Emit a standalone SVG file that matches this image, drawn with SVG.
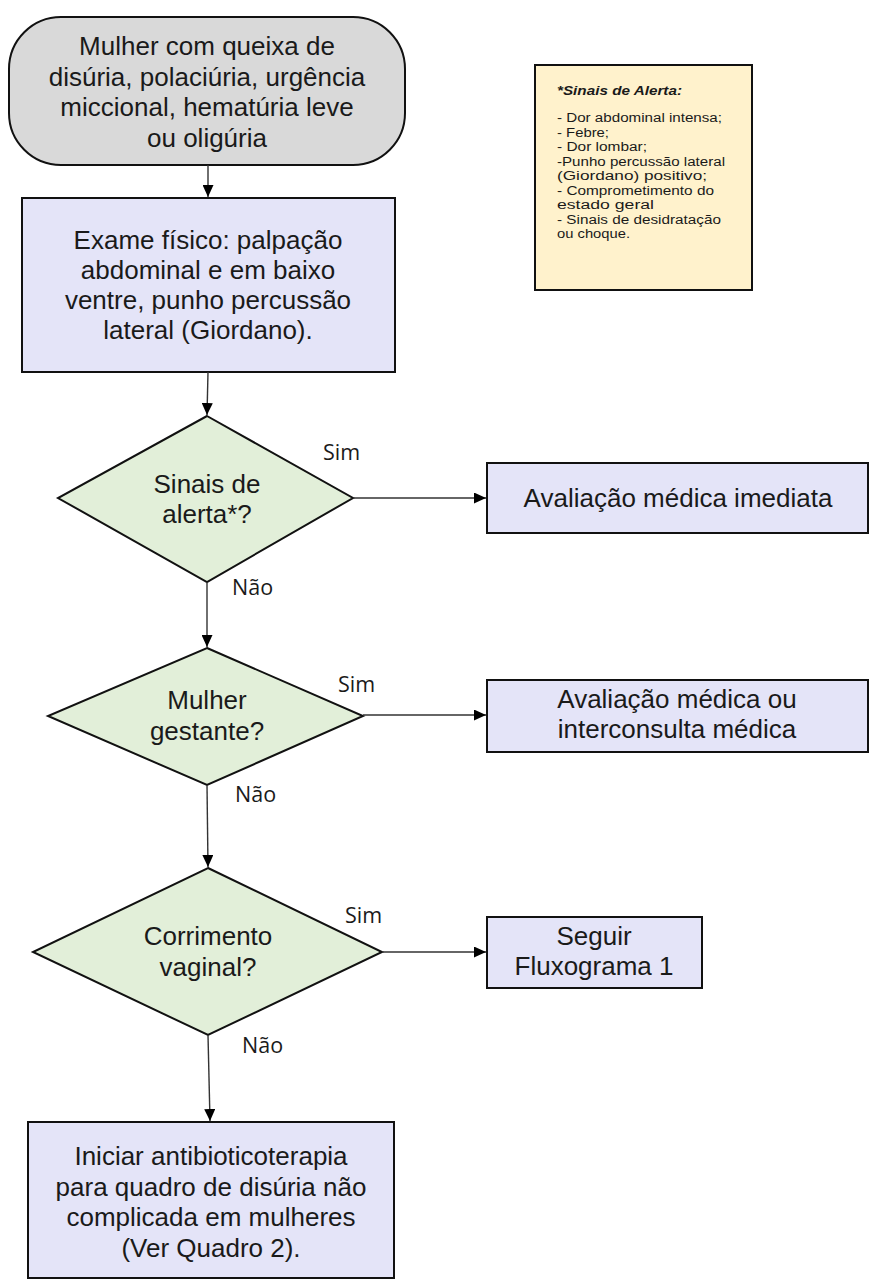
<svg xmlns="http://www.w3.org/2000/svg" width="870" height="1280" viewBox="0 0 870 1280">
<style>
.t{font-family:"Liberation Sans",Arial,sans-serif;font-size:26px;fill:#1a1a1a;text-anchor:middle}
.lbl{font-family:"Open Sans","Noto Sans",sans-serif;font-size:21.5px;fill:#1a1a1a}
.note{font-family:"Liberation Sans",Arial,sans-serif;font-size:12.5px;fill:#1a1a1a}
.box{fill:#e4e4f8;stroke:#111;stroke-width:2}
.dia{fill:#e2efd9;stroke:#111;stroke-width:2}
.con{stroke:#333;stroke-width:1.4;fill:none;marker-end:url(#ah)}
</style>
<defs>
<marker id="ah" markerUnits="userSpaceOnUse" markerWidth="12" markerHeight="11" refX="12" refY="5.5" orient="auto">
<path d="M0,0 L12,5.5 L0,11 z" fill="#000"/>
</marker>
</defs>
<rect width="870" height="1280" fill="#fff"/>
<g id="start">
<rect x="9" y="17" width="396" height="148" rx="52" ry="52" fill="#d9d9d9" stroke="#111" stroke-width="2"/>
<text class="t" x="207" y="55">Mulher com queixa de</text>
<text class="t" x="207" y="86">disúria, polaciúria, urgência</text>
<text class="t" x="207" y="116">miccional, hematúria leve</text>
<text class="t" x="207" y="147">ou oligúria</text>
</g>
<g id="alerta">
<rect x="535" y="65" width="217" height="225" fill="#fff2cc" stroke="#111" stroke-width="2"/>
<text class="note" x="557" y="95" font-weight="bold" font-style="italic" textLength="125" lengthAdjust="spacingAndGlyphs">*Sinais de Alerta:</text>
<text class="note" x="557" y="122" textLength="165" lengthAdjust="spacingAndGlyphs">- Dor abdominal intensa;</text>
<text class="note" x="557" y="137" textLength="52" lengthAdjust="spacingAndGlyphs">- Febre;</text>
<text class="note" x="557" y="151" textLength="90" lengthAdjust="spacingAndGlyphs">- Dor lombar;</text>
<text class="note" x="557" y="166" textLength="168" lengthAdjust="spacingAndGlyphs">-Punho percussão lateral</text>
<text class="note" x="557" y="180" textLength="150" lengthAdjust="spacingAndGlyphs">(Giordano) positivo;</text>
<text class="note" x="557" y="195" textLength="157" lengthAdjust="spacingAndGlyphs">- Comprometimento do</text>
<text class="note" x="557" y="209" textLength="97" lengthAdjust="spacingAndGlyphs">estado geral</text>
<text class="note" x="557" y="224" textLength="164" lengthAdjust="spacingAndGlyphs">- Sinais de desidratação</text>
<text class="note" x="557" y="238" textLength="73" lengthAdjust="spacingAndGlyphs">ou choque.</text>
</g>
<g id="exame">
<rect class="box" x="22" y="198" width="373" height="174"/>
<text class="t" x="208" y="249">Exame físico: palpação</text>
<text class="t" x="208" y="279">abdominal e em baixo</text>
<text class="t" x="208" y="309">ventre, punho percussão</text>
<text class="t" x="208" y="339">lateral (Giordano).</text>
</g>
<g id="d1">
<polygon class="dia" points="207,416 353,498 207,582 58,498"/>
<text class="t" x="207" y="493">Sinais de</text>
<text class="t" x="207" y="523">alerta*?</text>
</g>
<g id="imediata">
<rect class="box" x="487" y="463" width="381" height="70"/>
<text class="t" x="678" y="507">Avaliação médica imediata</text>
</g>
<g id="d2">
<polygon class="dia" points="207,648 363,716 207,785 48,716"/>
<text class="t" x="207" y="709">Mulher</text>
<text class="t" x="207" y="740">gestante?</text>
</g>
<g id="interconsulta">
<rect class="box" x="487" y="680" width="381" height="72"/>
<text class="t" x="677" y="708">Avaliação médica ou</text>
<text class="t" x="677" y="738">interconsulta médica</text>
</g>
<g id="d3">
<polygon class="dia" points="208,868 382,952 208,1035 33,952"/>
<text class="t" x="208" y="945">Corrimento</text>
<text class="t" x="208" y="976">vaginal?</text>
</g>
<g id="fluxograma">
<rect class="box" x="487" y="917" width="215" height="71"/>
<text class="t" x="594" y="945">Seguir</text>
<text class="t" x="594" y="975">Fluxograma 1</text>
</g>
<g id="antibiotico">
<rect class="box" x="28" y="1122" width="366" height="156"/>
<text class="t" x="211" y="1165">Iniciar antibioticoterapia</text>
<text class="t" x="211" y="1196">para quadro de disúria não</text>
<text class="t" x="211" y="1226">complicada em mulheres</text>
<text class="t" x="211" y="1257">(Ver Quadro 2).</text>
</g>
<g id="connectors">
<line class="con" x1="208" y1="165" x2="208" y2="197"/>
<line class="con" x1="208" y1="372" x2="207" y2="415"/>
<line class="con" x1="353" y1="498" x2="486" y2="498"/>
<line class="con" x1="207" y1="582" x2="207" y2="647"/>
<line class="con" x1="363" y1="715" x2="486" y2="715"/>
<line class="con" x1="207" y1="785" x2="208" y2="867"/>
<line class="con" x1="382" y1="952" x2="486" y2="952"/>
<line class="con" x1="208" y1="1035" x2="210" y2="1121"/>
<text class="lbl" x="323" y="460">Sim</text>
<text class="lbl" x="232" y="595">Não</text>
<text class="lbl" x="338" y="692">Sim</text>
<text class="lbl" x="235" y="802">Não</text>
<text class="lbl" x="345" y="923">Sim</text>
<text class="lbl" x="242" y="1053">Não</text>
</g>
</svg>
